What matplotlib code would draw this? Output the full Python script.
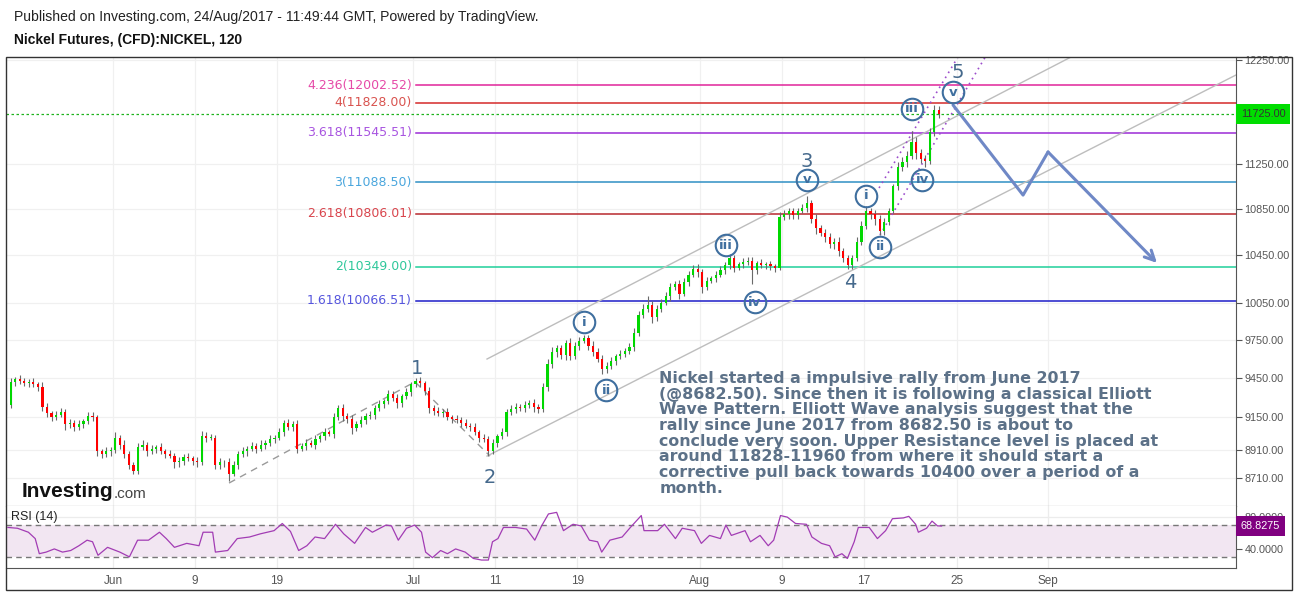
"""
Nickel Futures (CFD) 120 min chart with Elliott wave count, Fibonacci
extension levels and RSI(14) panel.
"""

import matplotlib
matplotlib.use('Agg')
import matplotlib.pyplot as plt
import numpy as np
from matplotlib.patches import Rectangle
from matplotlib.ticker import FixedLocator, NullLocator, FormatStrFormatter

plt.rcParams['font.family'] = ['Liberation Sans', 'DejaVu Sans']

# Data
# ----------------------------------------------------------------------------
# x axis = trading days counted from 1 Jun 2017, three bars per day
first_day = -8
bars_per_day = 3
first_open = 9200

closes = [
    9240, 9420, 9440,   9430, 9410, 9420,   9400, 9380, 9230,   # -8 .. -6
    9180, 9150, 9170,   9190, 9100, 9110,   9080, 9100, 9120,   # -5 .. -3
    9160, 9150, 8900,   8880, 8900, 8910,   9000, 8950, 8880,   # -2 .. 0
    8800, 8760, 8930,   8950, 8900, 8920,   8930, 8900, 8880,   # 1 .. 3
    8870, 8820, 8830,   8860, 8850, 8830,   8820, 9010, 9000,   # 4 .. 6
    9000, 8800, 8820,   8820, 8740, 8800,   8880, 8900, 8920,   # 7 .. 9
    8940, 8920, 8950,   8960, 8990, 9000,   9040, 9110, 9080,   # 10 .. 12
    9100, 8920, 8940,   8960, 8950, 8990,   9010, 9040, 9030,   # 13 .. 15
    9150, 9220, 9160,   9140, 9070, 9100,   9130, 9160, 9170,   # 16 .. 18
    9220, 9250, 9270,   9330, 9300, 9260,   9310, 9340, 9400,   # 19 .. 21
    9430, 9410, 9350,   9220, 9200, 9180,   9190, 9150, 9140,   # 22 .. 24
    9130, 9110, 9090,   9080, 9040, 9000,   8990, 8900, 8960,   # 25 .. 27
    9010, 9040, 9190,   9210, 9230, 9220,   9240, 9260, 9230,   # 28 .. 30
    9210, 9380, 9560,   9650, 9680, 9630,   9720, 9620, 9700,   # 31 .. 33
    9740, 9760, 9700,   9650, 9600, 9520,   9540, 9580, 9620,   # 34 .. 36
    9640, 9660, 9690,   9800, 9950, 10000,  10030, 9930, 10000,  # 37 .. 39
    10050, 10100, 10180, 10200, 10120, 10220, 10280, 10330, 10300,  # 40 .. 42
    10180, 10230, 10250, 10280, 10320, 10360, 10420, 10340, 10370,  # 43 .. 45
    10390, 10400, 10320, 10380, 10360, 10370, 10350, 10340, 10780,  # 46 .. 48
    10800, 10830, 10790, 10830, 10860, 10900, 10760, 10680, 10640,  # 49 .. 51
    10600, 10540, 10560, 10480, 10420, 10360, 10420, 10560, 10700,  # 52 .. 54
    10830, 10800, 10760, 10650, 10730, 10830, 11050, 11230, 11270,  # 55 .. 57
    11330, 11460, 11350, 11300, 11280, 11550, 11760, 11725,         # 58 .. 60
]
wick_hi = [
    20, 30, 20,  30, 20, 20,  30, 20, 40,  30, 20, 30,  30, 20, 30,
    20, 30, 20,  30, 30, 20,  20, 30, 20,  40, 20, 30,  20, 20, 30,
    30, 20, 30,  20, 30, 20,  30, 20, 30,  20, 30, 20,  30, 40, 30,
    30, 20, 30,  20, 30, 30,  20, 30, 20,  30, 20, 30,  20, 30, 20,
    30, 20, 30,  20, 30, 20,  30, 20, 30,  20, 30, 20,  30, 20, 30,
    20, 30, 20,  30, 20, 30,  20, 30, 20,  30, 20, 30,  20, 30, 20,
    20, 30, 20,  30, 20, 30,  20, 30, 20,  30, 20, 30,  20, 30, 20,
    30, 20, 30,  20, 30, 20,  30, 30, 20,  30, 20, 30,  20, 30, 40,
    40, 30, 30,  30, 40, 30,  30, 30, 30,  40, 30, 30,  30, 30, 20,
    30, 20, 30,  40, 30, 40,  70, 30, 30,  30, 40, 30,  30, 40, 30,
    30, 30, 40,  30, 30, 20,  30, 30, 30,  40, 30, 20,  30, 30, 30,
    20, 30, 20,  30, 20, 40,  40, 30, 30,  30, 30, 60,  30, 40, 30,
    30, 40, 30,  40, 30, 30,  30, 40, 40,  40, 30, 40,  30, 40, 30,
    20, 40, 50,  40, 100, 40, 40, 40, 40,  50, 40,
]
wick_lo = [
    30, 20, 30,  30, 20, 30,  20, 30, 30,  30, 30, 20,  20, 40, 30,
    30, 20, 30,  20, 30, 30,  30, 20, 30,  20, 30, 30,  30, 25, 20,
    20, 30, 20,  30, 20, 30,  20, 40, 30,  30, 20, 30,  30, 20, 30,
    20, 30, 30,  30, 55, 20,  30, 20, 30,  20, 30, 20,  30, 20, 30,
    20, 30, 20,  30, 30, 20,  30, 20, 30,  20, 30, 20,  30, 20, 40,
    30, 40, 20,  20, 30, 20,  30, 20, 30,  20, 30, 40,  30, 20, 30,
    20, 30, 30,  40, 30, 20,  30, 20, 30,  20, 30, 20,  30, 20, 30,
    20, 30, 20,  30, 20, 30,  20, 30, 20,  30, 20, 40,  30, 20, 30,
    30, 40, 30,  40, 30, 20,  30, 20, 30,  30, 30, 40,  30, 20, 30,
    20, 30, 20,  30, 20, 30,  30, 50, 30,  30, 20, 40,  30, 40, 20,
    30, 20, 40,  50, 30, 20,  30, 20, 30,  30, 40, 20,  30, 30, 120,
    30, 20, 30,  30, 40, 20,  30, 40, 30,  30, 20, 40,  40, 50, 30,
    40, 30, 40,  40, 30, 30,  30, 20, 30,  30, 40, 50,  30, 30, 20,
    20, 30, 40,  40, 30, 50,  40, 50, 30,  40, 40,
]
last_price = 11725.00

price_ticks = [12250, 11250, 10850, 10450, 10050, 9750, 9450, 9150, 8910, 8710]
date_ticks = [0, 6, 12, 22, 28, 34, 43, 49, 55, 61.8, 68.5]
date_labels = ['Jun', '9', '19', 'Jul', '11', '19', 'Aug', '9', '17', '25', 'Sep']

fib_levels = ['4.236', '4', '3.618', '3', '2.618', '2', '1.618']
fib_prices = [12002.52, 11828.00, 11545.51, 11088.50, 10806.01, 10349.00, 10066.51]
fib_line_colors = ['#e0249a', '#d42a2a', '#9b2bd6', '#2f8fc4', '#b8282e', '#1fcf9a', '#1d1dc8']
fib_text_colors = ['#e64aa8', '#d9534f', '#a855e0', '#4aa6dd', '#d9454d', '#2ec79a', '#5555dd']
fib_start = 22.2

# Elliott wave labels (day, price)
wave_labels = ['1', '2', '3', '4', '5']
wave_day = [22.27, 27.62, 50.84, 53.99, 61.9]
wave_price = [9526, 8709, 11272, 10212, 12130]
sub_labels = ['i', 'ii', 'iii', 'iv', 'v', 'i', 'ii', 'iii', 'iv', 'v']
sub_day = [34.5, 36.12, 44.91, 47.03, 50.84, 55.16, 56.19, 58.53, 59.27, 61.54]
sub_price = [9891, 9357, 10533, 10054, 11107, 10963, 10516, 11770, 11107, 11934]

# trend lines (day, price)
wave1_day = [8.5, 22.12, 27.62]
wave1_price = [8673, 9420, 8866]
upper_day = [27.4, 70.1]
upper_price = [9597, 12274]
lower_day = [27.4, 82.27]
lower_price = [8866, 12101]
dot_a_day = [56.12, 61.9]
dot_a_price = [11035, 12280]
dot_b_day = [56.19, 63.9]
dot_b_price = [10620, 12280]
arrow_day = [61.54, 66.67, 68.50, 76.48]
arrow_price = [11808, 10971, 11364, 10380]

# RSI(14)
rsi_day = [-7.7, -7.0, -6.2, -5.7, -5.4, -4.9, -4.3, -3.7, -3.1, -2.5,
           -1.9, -1.5, -1.1, -0.4, 0.5, 1.2, 1.8, 2.6, 3.4, 3.9,
           4.5, 5.4, 6.3, 6.6, 7.3, 7.5, 8.4, 9.1, 10.0, 10.8,
           11.8, 12.4, 13.0, 13.6, 14.2, 14.8, 15.5, 16.3, 16.9, 17.7,
           18.5, 19.0, 20.0, 20.4, 20.9, 21.5, 22.1, 22.6, 22.9, 23.4,
           24.0, 24.5, 25.1, 25.8, 26.4, 27.0, 27.5, 27.8, 28.2, 28.6,
           29.5, 30.3, 30.9, 31.4, 31.9, 32.5, 33.0, 33.7, 34.3, 34.9,
           35.5, 35.8, 36.4, 37.3, 37.9, 38.7, 38.9, 39.9, 40.4, 41.2,
           41.7, 42.6, 43.1, 43.7, 44.5, 44.9, 45.3, 46.3, 46.7, 47.4,
           48.0, 48.4, 48.9, 49.4, 50.0, 50.8, 51.2, 51.9, 52.5, 52.9,
           53.4, 53.8, 54.3, 54.6, 55.4, 56.0, 56.6, 57.1, 57.9, 58.3,
           58.8, 59.0, 59.6, 60.0, 60.4, 60.7]
rsi_val = [67, 66, 61, 53, 34, 36, 40, 36, 38, 44,
           51, 49, 32, 42, 36, 30, 51, 51, 61, 53,
           42, 47, 44, 61, 61, 36, 38, 53, 55, 59,
           63, 72, 62, 38, 44, 55, 53, 71, 59, 47,
           67, 61, 70, 69, 51, 66, 70, 61, 36, 29,
           38, 34, 40, 36, 28, 26, 26, 49, 53, 67,
           67, 65, 51, 69, 84, 86, 63, 71, 69, 51,
           49, 36, 51, 55, 67, 82, 63, 63, 71, 53,
           66, 63, 47, 57, 53, 70, 57, 63, 49, 57,
           44, 51, 82, 80, 72, 71, 55, 47, 44, 30,
           34, 28, 49, 67, 67, 53, 63, 78, 79, 81,
           71, 61, 66, 75, 69, 68.8275]

note = ('Nickel started a impulsive rally from June 2017\n'
        '(@8682.50). Since then it is following a classical Elliott\n'
        'Wave Pattern. Elliott Wave analysis suggest that the\n'
        'rally since June 2017 from 8682.50 is about to\n'
        'conclude very soon. Upper Resistance level is placed at\n'
        'around 11828-11960 from where it should start a\n'
        'corrective pull back towards 10400 over a period of a\n'
        'month.')

# Figure layout (pixel boxes)
# ----------------------------------------------------------------------------
W, H = 1299, 593
fig = plt.figure(figsize=(W / 100, H / 100), dpi=100)


def px_box(x0, y0, x1, y1):
    return [x0 / W, 1 - y1 / H, (x1 - x0) / W, (y1 - y0) / H]


ax = fig.add_axes(px_box(6, 57, 1236, 506))
ax2 = fig.add_axes(px_box(6, 506, 1236, 568), sharex=ax)
xlim = (-7.84, 82.27)

fig.add_artist(Rectangle((6 / W, 1 - 590 / H), 1286 / W, 533 / H, transform=fig.transFigure,
                         fill=False, ec='#333333', lw=1.0))
fig.text(14 / W, 1 - 17 / H, 'Published on Investing.com, 24/Aug/2017 - 11:49:44 GMT, Powered by TradingView.',
         fontsize=10.1, color='#222222', va='center')
fig.text(14 / W, 1 - 40 / H, 'Nickel Futures, (CFD):NICKEL, 120', fontsize=10, fontweight='bold',
         color='#111111', va='center')

# Main price panel
# ----------------------------------------------------------------------------
closes = np.array(closes, float)
opens = np.r_[first_open, closes[:-1]]
highs = np.maximum(opens, closes) + np.array(wick_hi)
lows = np.minimum(opens, closes) - np.array(wick_lo)
x = first_day + (np.arange(len(closes)) + 0.5) / bars_per_day
up = closes >= opens
body_bot = np.minimum(opens, closes)
body_h = np.maximum(np.abs(closes - opens), 5)

ax.set_yscale('log')
ax.set_xlim(*xlim)
ax.set_ylim(8512, 12280)

ax.vlines(x, lows, highs, color='#6a6a6a', lw=0.8, zorder=3)
ax.bar(x[up], body_h[up], bottom=body_bot[up], width=0.16, color='#00d800', lw=0, zorder=4)
ax.bar(x[~up], body_h[~up], bottom=body_bot[~up], width=0.16, color='#ff0000', lw=0, zorder=4)

for lvl, p, lc, tc in zip(fib_levels, fib_prices, fib_line_colors, fib_text_colors):
    ax.plot([fib_start, xlim[1]], [p, p], color=lc, lw=1.1, zorder=2)
    ax.text(fib_start - 0.3, p, f'{lvl}({p:.2f})', ha='right', va='center', color=tc,
            fontsize=9.0, family='DejaVu Sans')

ax.axhline(last_price, color='#1db31d', lw=0.9, ls=(0, (2, 2)), zorder=2)

ax.plot(wave1_day, wave1_price, color='#9a9a9a', lw=1, ls=(0, (5, 4)), zorder=2)
ax.plot(upper_day, upper_price, color='#bdbdbd', lw=1, zorder=2)
ax.plot(lower_day, lower_price, color='#bdbdbd', lw=1, zorder=2)
ax.plot(dot_a_day, dot_a_price, color='#9c4dcc', lw=1.2, ls=(0, (1, 2.5)), zorder=2)
ax.plot(dot_b_day, dot_b_price, color='#9c4dcc', lw=1.2, ls=(0, (1, 2.5)), zorder=2)

ax.plot(arrow_day[:-1], arrow_price[:-1], color='#6f88c6', lw=2.2, solid_capstyle='round', zorder=5)
ax.annotate('', xy=(arrow_day[-1], arrow_price[-1]), xytext=(arrow_day[-2], arrow_price[-2]),
            arrowprops=dict(arrowstyle='->,head_length=0.7,head_width=0.35', color='#6f88c6', lw=2.2,
                            shrinkA=0, shrinkB=0), zorder=5)

for lbl, d, p in zip(wave_labels, wave_day, wave_price):
    ax.text(d, p, lbl, ha='center', va='center', fontsize=14, color='#45698c',
            family='DejaVu Sans', zorder=6)
ax.plot(sub_day, sub_price, 'o', ms=15.5, mfc='none', mec='#3f6f9f', mew=1.5, zorder=6)
for lbl, d, p in zip(sub_labels, sub_day, sub_price):
    ax.text(d, p, lbl, ha='center', va='center', fontsize=9.5, fontweight='bold', color='#3f6f9f',
            family='DejaVu Sans', zorder=6)

ax.text(0.531, 0.301, note, transform=ax.transAxes, ha='left', va='top', fontsize=11.4,
        fontweight='bold', color='#5c7188', family='DejaVu Sans', linespacing=1.06, zorder=7)

logo = ax.text(0.013, 0.02, 'Investing', transform=ax.transAxes, ha='left', va='baseline',
               fontsize=15, fontweight='bold', color='#111111', zorder=7)
ax.annotate('.com', xy=(1, 0), xycoords=logo, ha='left', va='bottom', fontsize=11,
            color='#444444', zorder=7)

ax.yaxis.tick_right()
ax.yaxis.set_major_locator(FixedLocator(price_ticks))
ax.yaxis.set_minor_locator(NullLocator())
ax.yaxis.set_major_formatter(FormatStrFormatter('%.2f'))
ax.tick_params(axis='y', length=4, width=0.8, color='#555555', labelsize=7.8, labelcolor='#555555', pad=2)
ax.tick_params(axis='x', bottom=False, labelbottom=False)
ax.grid(True, color='#f0f0f0', lw=0.9)
ax.set_axisbelow(True)
ax.text(1.004, last_price, '11725.00', transform=ax.get_yaxis_transform(), ha='left', va='center',
        fontsize=7.8, color='#333333', bbox=dict(boxstyle='square,pad=0.45', fc='#00dd00', ec='none'),
        clip_on=False, zorder=8)
for s in ('left', 'top'):
    ax.spines[s].set_visible(False)
for s in ('right', 'bottom'):
    ax.spines[s].set_color('#555555')

# RSI panel
# ----------------------------------------------------------------------------
ax2.set_ylim(16, 94)
ax2.axhspan(30, 70, color='#f2e6f2', lw=0, zorder=1)
ax2.axhline(70, color='#777777', lw=1, ls=(0, (4, 3)), zorder=2)
ax2.axhline(30, color='#777777', lw=1, ls=(0, (4, 3)), zorder=2)
ax2.plot(rsi_day, rsi_val, color='#a23cb4', lw=0.9, zorder=3)
ax2.text(0.004, 0.82, 'RSI (14)', transform=ax2.transAxes, ha='left', va='center', fontsize=9,
         color='#222222')
ax2.text(1.004, rsi_val[-1], f'{rsi_val[-1]:.4f}', transform=ax2.get_yaxis_transform(), ha='left',
         va='center', fontsize=7.8, color='white',
         bbox=dict(boxstyle='square,pad=0.45', fc='#800080', ec='none'), clip_on=False, zorder=8)

ax2.yaxis.tick_right()
ax2.yaxis.set_major_locator(FixedLocator([40, 80]))
ax2.yaxis.set_major_formatter(FormatStrFormatter('%.4f'))
ax2.tick_params(axis='y', length=4, width=0.8, color='#555555', labelsize=7.8, labelcolor='#555555', pad=2)
ax2.xaxis.set_major_locator(FixedLocator(date_ticks))
ax2.set_xticklabels(date_labels)
ax2.tick_params(axis='x', length=0, labelsize=8.5, labelcolor='#555555', pad=5)
ax2.grid(True, color='#ececec', lw=0.9)
ax2.set_axisbelow(True)
for s in ('left', 'top'):
    ax2.spines[s].set_visible(False)
for s in ('right', 'bottom'):
    ax2.spines[s].set_color('#555555')

fig.savefig('out.png', dpi=100)
